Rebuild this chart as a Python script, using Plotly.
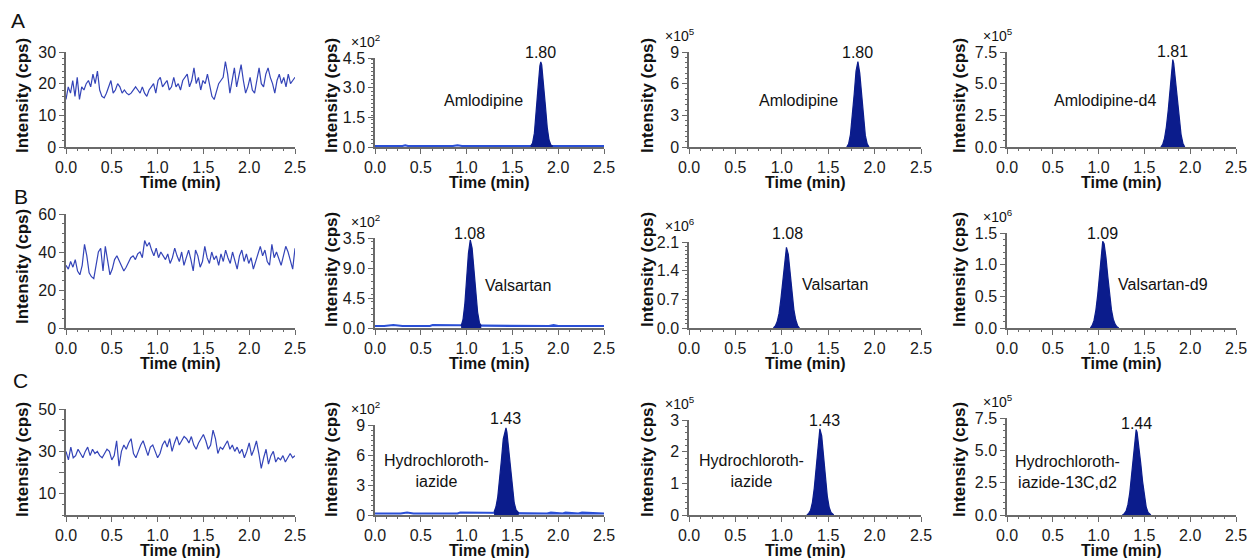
import numpy as np
import plotly.graph_objects as go

# ---------------- DATA ----------------
# Blank-sample noise traces (Intensity, cps), sampled evenly over 0-2.5 min
noise_A = [15,19,17,21,16,22,15,19,18,20,21,19,23,20,24,18,16,15.5,17,19,21,17,18,20,19,17,18,17,16.5,17,
           18,19,18,17,19,17,16,18,19,20,17,21,22,19,20,21,18,19,22,19,20,18,21,22,23,19,21,25,20,22,
           18,21,20,23,19,16,15,18,20,21,22,27,23,17,21,25,19,22,26,21,17,19,22,18,17,21,25,20,19,23,
           25,22,20,17,21,23,20,22,19,23,20,21,22]
noise_B = [33,31,35,32,36,30,28,33,44,38,29,27,26,33,40,42,30,43,35,28,31,36,38,35,33,30,32,35,37,38,
           36,39,40,37,46,43,45,41,38,42,37,40,38,36,39,34,37,42,38,35,40,33,37,41,36,30,41,38,32,35,
           43,37,34,40,36,38,33,39,35,41,37,34,40,36,31,38,41,35,39,34,37,31,35,40,43,38,41,35,33,44,
           37,40,36,33,38,43,40,35,31,42]
noise_C = [30,26,32,27,28,31,29,27,30,32,28,31,29,30,28,27,29,31,30,26,28,35,23,30,33,31,34,36,29,27,
           30,33,35,31,28,32,33,30,27,29,33,35,32,36,30,34,37,33,35,37,36,34,37,33,31,34,36,38,35,31,
           33,40,36,29,32,31,33,35,31,33,30,32,29,31,27,30,34,28,31,35,29,22,27,31,24,28,30,25,27,26,
           28,25,27,29,27,28]

# Peaks (time in min, intensity in displayed units of each panel's multiplier)
pkA2_t = [1.70,1.72,1.74,1.76,1.78,1.80,1.81,1.82,1.84,1.86,1.88,1.90,1.92,1.94]
pkA2_v = [0.05,0.2,0.7,1.7,3.0,4.1,4.3,4.15,3.3,2.1,1.0,0.35,0.1,0.05]
pkA3_t = [1.70,1.72,1.74,1.76,1.78,1.80,1.82,1.84,1.86,1.88,1.90,1.92,1.94]
pkA3_v = [0,0.3,1.2,2.9,5.0,7.2,8.1,7.0,4.8,2.7,1.1,0.3,0]
pkA4_t = [1.68,1.70,1.72,1.74,1.76,1.78,1.80,1.81,1.82,1.84,1.86,1.88,1.90,1.92,1.94]
pkA4_v = [0,0.2,0.7,1.6,2.9,4.5,6.3,6.9,6.6,5.3,3.7,2.2,1.0,0.3,0]
pkB2_t = [0.94,0.96,0.98,1.00,1.02,1.04,1.06,1.08,1.10,1.12,1.14,1.16]
pkB2_v = [0.3,1.2,3.5,7.2,11.2,13.2,12.0,8.8,5.2,2.4,0.8,0.3]
pkB3_t = [0.91,0.93,0.95,0.97,0.99,1.01,1.03,1.05,1.07,1.09,1.11,1.13,1.15,1.17,1.19]
pkB3_v = [0,0.05,0.15,0.35,0.7,1.15,1.65,1.97,1.8,1.35,0.85,0.45,0.2,0.06,0]
pkB4_t = [0.91,0.93,0.95,0.97,0.99,1.01,1.03,1.045,1.06,1.08,1.10,1.12,1.14,1.16,1.18,1.20,1.22]
pkB4_v = [0,0.04,0.12,0.28,0.52,0.85,1.2,1.37,1.33,1.12,0.82,0.52,0.29,0.14,0.06,0.02,0]
pkC2_t = [1.30,1.32,1.34,1.36,1.38,1.40,1.42,1.43,1.44,1.46,1.48,1.50,1.52,1.54,1.57]
pkC2_v = [0.3,0.8,1.8,3.4,5.5,7.6,8.6,8.7,8.3,6.6,4.5,2.6,1.2,0.5,0.2]
pkC3_t = [1.27,1.29,1.31,1.33,1.35,1.37,1.39,1.41,1.43,1.45,1.47,1.49,1.51,1.53,1.56]
pkC3_v = [0,0.05,0.15,0.4,0.85,1.5,2.25,2.72,2.5,1.9,1.2,0.6,0.25,0.08,0]
pkC4_t = [1.26,1.28,1.30,1.32,1.34,1.36,1.38,1.40,1.41,1.42,1.44,1.46,1.48,1.50,1.52,1.54,1.57]
pkC4_v = [0,0.1,0.3,0.8,1.7,3.0,4.6,6.1,6.6,6.4,5.4,4.0,2.6,1.4,0.6,0.2,0]

# Baselines of the analyte (LLOQ) panels
baseA2_t = [0,0.30,0.33,0.36,0.85,0.90,0.95,1.70]
baseA2_v = [0.05,0.05,0.09,0.05,0.05,0.09,0.05,0.05]
baseB2_t = [0,0.10,0.20,0.30,0.60,0.63,1.90,1.95,2.0,2.5]
baseB2_v = [0.3,0.3,0.45,0.3,0.3,0.45,0.3,0.45,0.3,0.3]
baseC2_t = [0,0.28,0.35,0.42,0.90,0.93,1.88,1.92,2.05,2.08,2.22,2.26,2.5]
baseC2_v = [0.15,0.15,0.25,0.15,0.15,0.25,0.15,0.25,0.15,0.25,0.15,0.25,0.15]

# Tick labels
yticks = {
    "A1": ([0,10,20,30], ["0","10","20","30"]),
    "A2": ([0,1.5,3,4.5], ["0.0","1.5","3.0","4.5"]),
    "A3": ([0,3,6,9], ["0","3","6","9"]),
    "A4": ([0,2.5,5,7.5], ["0.0","2.5","5.0","7.5"]),
    "B1": ([0,20,40,60], ["0","20","40","60"]),
    "B2": ([0,4.5,9,13.5], ["0.0","4.5","9.0","3.5"]),
    "B3": ([0,0.7,1.4,2.1], ["0.0","0.7","1.4","2.1"]),
    "B4": ([0,0.5,1.0,1.5], ["0.0","0.5","1.0","1.5"]),
    "C1": ([10,20,30,40,50], ["10","","30","","50"]),
    "C2": ([0,3,6,9], ["0","3","6","9"]),
    "C3": ([0,1,2,3], ["0","1","2","3"]),
    "C4": ([0,2.5,5,7.5], ["0.0","2.5","5.0","7.5"]),
}
xticks = [0, 0.5, 1.0, 1.5, 2.0, 2.5]
xticktext = ["0.0", "0.5", "1.0", "1.5", "2.0", "2.5"]
multipliers = {"A2": "2", "A3": "5", "A4": "5", "B2": "2", "B3": "6", "B4": "6",
               "C2": "2", "C3": "5", "C4": "5"}
rt_labels = {"A2": "1.80", "A3": "1.80", "A4": "1.81", "B2": "1.08", "B3": "1.08", "B4": "1.09",
             "C2": "1.43", "C3": "1.43", "C4": "1.44"}
names = {"A2": "Amlodipine", "A3": "Amlodipine", "A4": "Amlodipine-d4",
         "B2": "Valsartan", "B3": "Valsartan", "B4": "Valsartan-d9",
         "C2": "Hydrochloroth-<br>iazide", "C3": "Hydrochloroth-<br>iazide",
         "C4": "Hydrochloroth-<br>iazide-13C,d2"}

# ---------------- LAYOUT (pixels) ----------------
W, H = 1249, 558
COLX = [(66, 295), (375, 604), (689, 921), (1007, 1236)]
ROWB = [147, 328, 515]
TOPS = [[52, 58, 52, 52], [214, 238, 242, 233], [409, 425, 420, 418]]
ROWS = ["A", "B", "C"]

def px(x):
    return x / W

def py(y):
    return 1 - y / H

FONT = "Arial, Liberation Sans, Helvetica, sans-serif"
NOISE_C = "#3444b8"
PEAK_C = "#0b1c8c"
BASE_C = "#2a4fd6"
AXIS_C = "#6a6a6a"

fig = go.Figure()
layout = {}
annots = []

def note(text, x, y, size=16, xanchor="center", **kw):
    annots.append(dict(text=text, xref="paper", yref="paper", x=px(x), y=py(y),
                       xanchor=xanchor, yanchor="middle", showarrow=False,
                       font=dict(family=FONT, size=size, color="#111"), **kw))

for r, row in enumerate(ROWS):
    for c in range(4):
        key = f"{row}{c+1}"
        idx = r * 4 + c + 1
        xa = "x" if idx == 1 else f"x{idx}"
        ya = "y" if idx == 1 else f"y{idx}"
        x0, x1 = COLX[c]
        top, bot = TOPS[r][c], ROWB[r]
        tv, tt = yticks[key]
        ymax = tv[-1]
        layout["xaxis" if idx == 1 else f"xaxis{idx}"] = dict(
            domain=[px(x0), px(x1)], anchor=ya, range=[0, 2.5], automargin=False,
            tickvals=xticks, ticktext=xticktext, ticks="outside", ticklen=5, tickwidth=1.3,
            tickcolor=AXIS_C, showline=True, linecolor=AXIS_C, linewidth=1.5,
            showgrid=False, zeroline=False, tickfont=dict(family=FONT, size=16, color="#1a1a1a"),
            minor=dict(dtick=0.125, ticks="outside", ticklen=2.5, tickcolor=AXIS_C),
            fixedrange=True)
        layout["yaxis" if idx == 1 else f"yaxis{idx}"] = dict(
            domain=[py(bot), py(top)], anchor=xa, range=[0, ymax], automargin=False,
            tickvals=tv, ticktext=tt, ticks="outside", ticklen=5, tickwidth=1.3,
            tickcolor=AXIS_C, showline=True, linecolor=AXIS_C, linewidth=1.5,
            showgrid=False, zeroline=False, tickfont=dict(family=FONT, size=16, color="#1a1a1a"),
            minor=dict(nticks=5, ticks="outside", ticklen=2.5, tickcolor=AXIS_C),
            fixedrange=True)

        note("<b>Time (min)</b>", (x0 + x1) / 2, bot + 35, size=16)
        yt_x = [22, 331, 647, 959][c]
        yt_y = [96, 270, 460][r] if c > 0 else [96, 267, 460][r]
        note("<b>Intensity (cps)</b>", yt_x, yt_y, size=17, textangle=-90)

        if key in multipliers:
            note("×10<sup>" + multipliers[key] + "</sup>", x0 - 26, top - 17, size=14,
                 xanchor="left")

# traces
noise = {"A1": noise_A, "B1": noise_B, "C1": noise_C}
peaks = {"A2": (pkA2_t, pkA2_v), "A3": (pkA3_t, pkA3_v), "A4": (pkA4_t, pkA4_v),
         "B2": (pkB2_t, pkB2_v), "B3": (pkB3_t, pkB3_v), "B4": (pkB4_t, pkB4_v),
         "C2": (pkC2_t, pkC2_v), "C3": (pkC3_t, pkC3_v), "C4": (pkC4_t, pkC4_v)}
bases = {"A2": (baseA2_t, baseA2_v), "B2": (baseB2_t, baseB2_v), "C2": (baseC2_t, baseC2_v)}

def axes_for(key):
    r = ROWS.index(key[0])
    c = int(key[1]) - 1
    idx = r * 4 + c + 1
    return ("x" if idx == 1 else f"x{idx}"), ("y" if idx == 1 else f"y{idx}")

for key, vals in noise.items():
    xa, ya = axes_for(key)
    t = np.linspace(0, 2.5, len(vals))
    fig.add_trace(go.Scatter(x=t, y=vals, mode="lines", xaxis=xa, yaxis=ya,
                             line=dict(color=NOISE_C, width=1.2), showlegend=False))

for key, (bt, bv) in bases.items():
    xa, ya = axes_for(key)
    pt, pv = peaks[key]
    bt2 = list(bt) + [pt[-1], 2.5]
    bv2 = list(bv) + [bv[-1], bv[-1]]
    fig.add_trace(go.Scatter(x=bt2, y=bv2, mode="lines", xaxis=xa, yaxis=ya,
                             line=dict(color=BASE_C, width=2), showlegend=False))

for key, (pt, pv) in peaks.items():
    xa, ya = axes_for(key)
    fig.add_trace(go.Scatter(x=pt, y=pv, mode="lines", fill="tozeroy", xaxis=xa, yaxis=ya,
                             fillcolor=PEAK_C, line=dict(color=PEAK_C, width=1.2),
                             showlegend=False))

# peak labels (pixel placement)
rt_pos = {"A2": (540, 53), "A3": (857, 53), "A4": (1172, 52), "B2": (469, 233), "B3": (787, 233),
          "B4": (1102, 233), "C2": (505, 418), "C3": (824, 420), "C4": (1136, 423)}
nm_pos = {"A2": (483, 100), "A3": (798, 100), "A4": (1105, 100), "B2": (518, 285),
          "B3": (835, 284), "B4": (1163, 284), "C2": (436, 471), "C3": (751, 471),
          "C4": (1067, 472)}
for key in rt_labels:
    x, y = rt_pos[key]
    note(rt_labels[key], x, y, size=16)
    x, y = nm_pos[key]
    note(names[key], x, y, size=16, align="center")

for lab, (x, y) in zip(ROWS, [(18, 20), (21, 196), (20, 380)]):
    note(lab, x, y, size=21)

fig.update_layout(width=W, height=H, margin=dict(l=0, r=0, t=0, b=0, autoexpand=False),
                  paper_bgcolor="white", plot_bgcolor="white", showlegend=False,
                  annotations=annots, **layout)

fig.write_html("out.html", config={"displayModeBar": False},
               post_script="document.body.style.margin='0px';")
